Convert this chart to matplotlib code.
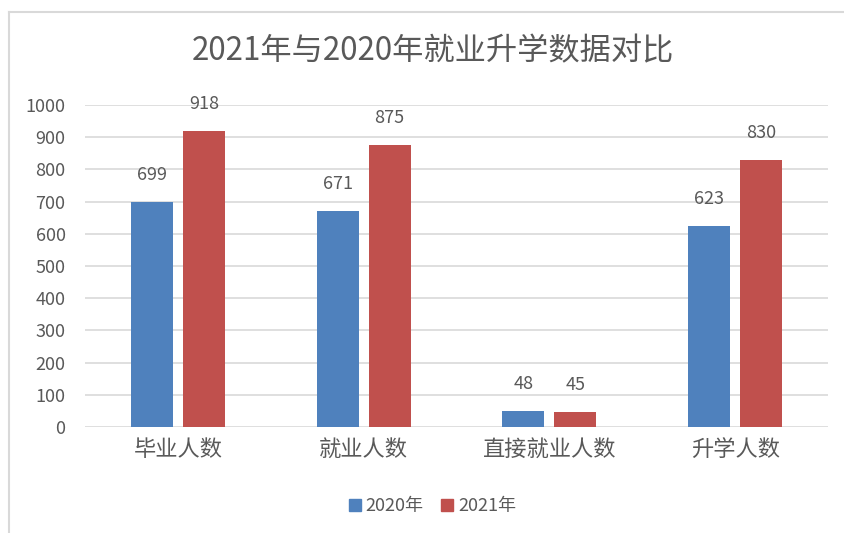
import matplotlib
matplotlib.use("Agg")
import matplotlib.pyplot as plt
from matplotlib.lines import Line2D
import numpy as np

plt.rcParams['font.family'] = ['Noto Sans CJK SC', 'DejaVu Sans']

categories = ["毕业人数", "就业人数", "直接就业人数", "升学人数"]
series_names = ["2020年", "2021年"]
values_2020 = [699, 671, 48, 623]
values_2021 = [918, 875, 45, 830]
yticks = [0, 100, 200, 300, 400, 500, 600, 700, 800, 900, 1000]
title = "2021年与2020年就业升学数据对比"

c2020 = "#4F81BD"
c2021 = "#C0504D"
txt = "#595959"

fig = plt.figure(figsize=(8.45, 5.33), dpi=100)
ax = fig.add_axes([0.1006, 0.199, 0.8794, 0.604])

x = np.arange(len(categories))
w = 0.226
off = 0.14
b1 = ax.bar(x - off, values_2020, w, color=c2020, zorder=3, label=series_names[0])
b2 = ax.bar(x + off, values_2021, w, color=c2021, zorder=3, label=series_names[1])

for bars in (b1, b2):
    for r in bars:
        ax.annotate(f"{int(r.get_height())}", (r.get_x() + r.get_width() / 2, r.get_height()),
                    xytext=(0, 13), textcoords="offset points", ha="center", va="bottom",
                    fontsize=13, color=txt)

ax.set_xlim(-0.5, len(categories) - 0.5)
ax.set_ylim(0, 1000)
ax.set_yticks(yticks)
ax.set_yticklabels([str(v) for v in yticks], fontsize=13, color=txt)
ax.set_xticks(x)
ax.set_xticklabels(categories, fontsize=16, color=txt)
ax.tick_params(axis='both', length=0)
ax.tick_params(axis='y', pad=14)
ax.tick_params(axis='x', pad=8)
ax.grid(axis='y', color="#D9D9D9", linewidth=1.2, zorder=0)
for s in ax.spines.values():
    s.set_visible(False)

fig.text(0.512, 0.903, title, ha="center", va="center", fontsize=22.5, color=txt,
         fontweight="light")

handles = [Line2D([], [], marker='s', linestyle='none', markersize=9, color=c2020),
           Line2D([], [], marker='s', linestyle='none', markersize=9, color=c2021)]
fig.legend(handles, series_names, loc="center", bbox_to_anchor=(0.51, 0.05), ncol=2,
           frameon=False, fontsize=13, labelcolor=txt, handletextpad=0.1, columnspacing=0.8,
           handlelength=1.0)

# chart frame (left and top edges)
fig.add_artist(Line2D([0.0105, 0.0105], [0, 0.978], transform=fig.transFigure, color="#D9D9D9", linewidth=1.5))
fig.add_artist(Line2D([0.0105, 1.0], [0.978, 0.978], transform=fig.transFigure, color="#D9D9D9", linewidth=1.5))

fig.savefig("out.png", dpi=100)
